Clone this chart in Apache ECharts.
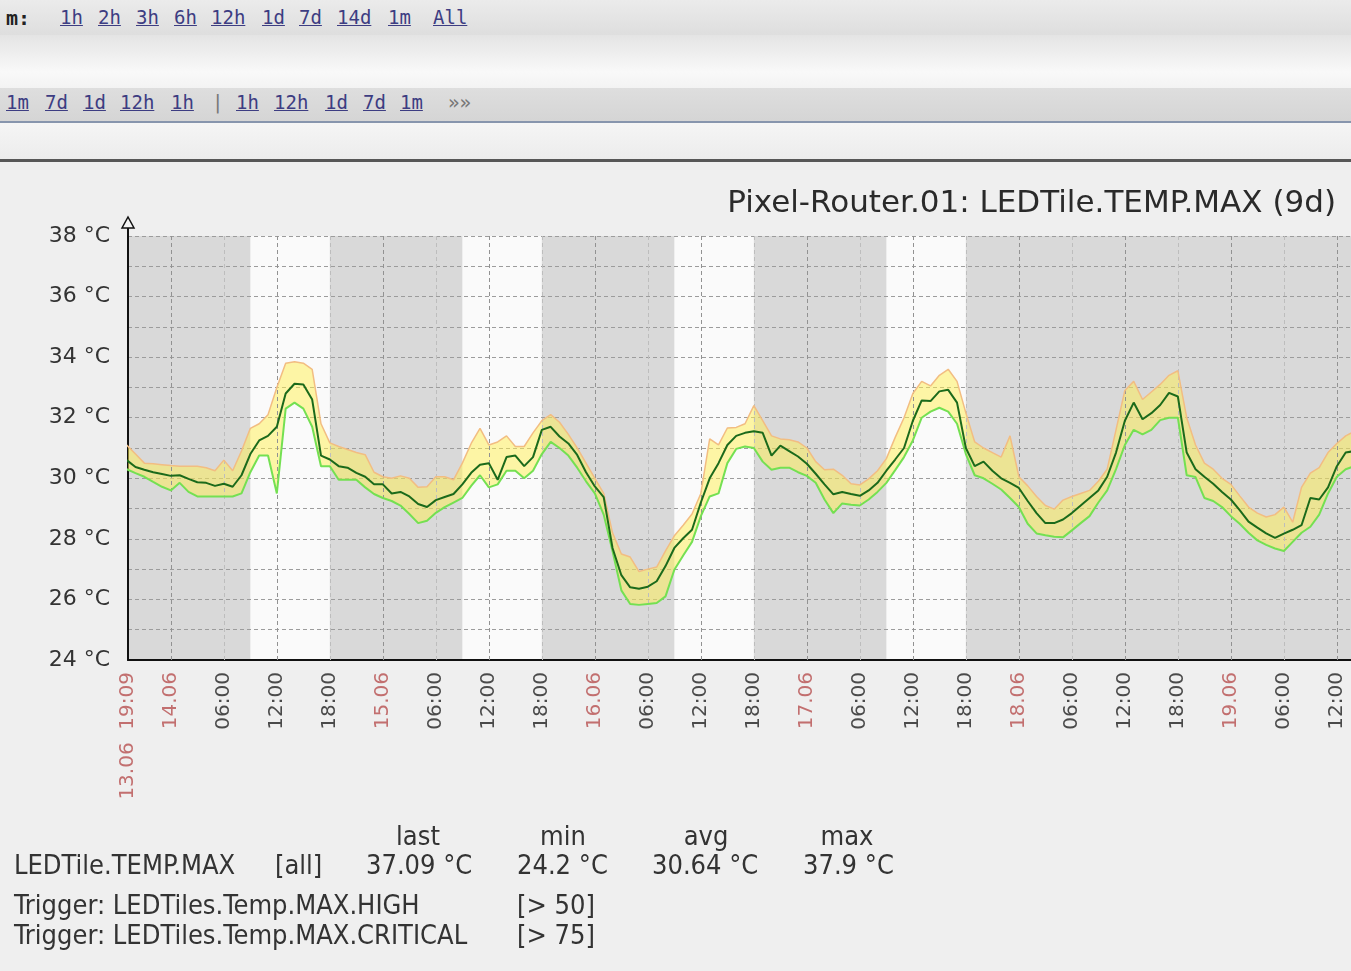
<!DOCTYPE html>
<html>
<head>
<meta charset="utf-8">
<script src="https://cdn.jsdelivr.net/npm/echarts@6/dist/echarts.min.js"></script>
<style>
    body { margin: 0; width: 1351px; height: 971px; background: #efefef; overflow: hidden; position: relative; }
    .bar { position: absolute; left: 0; width: 1351px; }
    #filterBar { top: 0; height: 35px; background: linear-gradient(#ebebeb, #dedede); }
    #gapBar { top: 35px; height: 53px; background: linear-gradient(#e4e4e4, #f9f9f9 70%, #f3f3f3); }
    #navBar { top: 88px; height: 33px; background: linear-gradient(#dedede, #d5d5d5); border-bottom: 2px solid #8795ad; }
    #subBar { top: 123px; height: 36px; background: linear-gradient(#f5f5f5, #ececec); border-bottom: 3px solid #575757; }
    .lnk { position: absolute; font-family: 'DejaVu Sans Mono', monospace; font-size: 19px; color: #3d3d82; text-decoration: underline; white-space: pre; }
    .plain { position: absolute; font-family: 'DejaVu Sans Mono', monospace; font-size: 19px; color: #777; white-space: pre; }
    #zoomLabel { position: absolute; left: 6px; top: 6px; font-family: 'DejaVu Sans Mono', monospace; font-size: 20px; font-weight: bold; color: #222; }
    #chart { position: absolute; left: 0; top: 0; width: 1351px; height: 971px; }
</style>
</head>
<body>
<div class="bar" id="filterBar"><span id="zoomLabel">m:</span></div>
<div class="bar" id="gapBar"></div>
<div class="bar" id="navBar"></div>
<div class="bar" id="subBar"></div>
<div id="chart"></div>
<script>
// zoom / navigation links of the page header
const zoomLinks = [['1h', 60], ['2h', 98], ['3h', 136], ['6h', 174], ['12h', 211], ['1d', 262], ['7d', 299], ['14d', 337], ['1m', 388], ['All', 433]]
const navLinks = [['1m', 6], ['7d', 45], ['1d', 83], ['12h', 120], ['1h', 171], ['|', 212], ['1h', 236], ['12h', 274], ['1d', 325], ['7d', 363], ['1m', 400], ['»»', 448]]

// hourly samples, first sample 13.06 19:00
const sampleStart = '2011-06-13 19:00'
const sampleStepHours = 1
const avgTemp = [
    30.6, 30.37, 30.28, 30.2, 30.14, 30.08, 30.1, 29.98, 29.87, 29.85,
    29.75, 29.82, 29.72, 30.1, 30.8, 31.25, 31.4, 31.7, 32.8, 33.12,
    33.1, 32.6, 30.75, 30.62, 30.4, 30.35, 30.18, 30.05, 29.8, 29.8,
    29.5, 29.55, 29.4, 29.15, 29.05, 29.28, 29.38, 29.48, 29.8, 30.18,
    30.45, 30.5, 29.95, 30.7, 30.75, 30.4, 30.7, 31.6, 31.7, 31.38,
    31.15, 30.77, 30.2, 29.73, 29.38, 27.7, 26.8, 26.4, 26.35, 26.42,
    26.6, 27.1, 27.7, 28.02, 28.3, 29.2, 30.0, 30.5, 31.1, 31.4,
    31.5, 31.55, 31.5, 30.75, 31.08, 30.9, 30.72, 30.48, 30.15, 29.8,
    29.47, 29.55, 29.48, 29.42, 29.6, 29.85, 30.25, 30.62, 31.0, 31.9,
    32.57, 32.55, 32.87, 32.92, 32.5, 31.0, 30.4, 30.55, 30.25, 30.0,
    29.85, 29.68, 29.25, 28.85, 28.52, 28.52, 28.64, 28.85, 29.1, 29.35,
    29.6, 30.05, 30.85, 31.9, 32.5, 31.95, 32.15, 32.42, 32.82, 32.7,
    30.85, 30.3, 30.05, 29.82, 29.55, 29.3, 28.95, 28.57, 28.37, 28.18,
    28.03, 28.17, 28.3, 28.45, 29.35, 29.3, 29.7, 30.4, 30.85, 30.9
]
const maxTemp = [
    31.1, 30.8, 30.5, 30.48, 30.45, 30.42, 30.4, 30.4, 30.4, 30.35,
    30.25, 30.6, 30.25, 30.9, 31.65, 31.8, 32.1, 33.0, 33.8, 33.85,
    33.8, 33.6, 31.8, 31.17, 31.05, 30.95, 30.85, 30.78, 30.2, 30.05,
    30.0, 30.08, 30.0, 29.7, 29.72, 30.05, 30.05, 29.95, 30.5, 31.15,
    31.65, 31.1, 31.2, 31.4, 31.05, 31.05, 31.5, 31.9, 32.1, 31.85,
    31.45, 31.0, 30.5, 30.0, 29.5, 28.2, 27.5, 27.4, 26.92, 27.0,
    27.07, 27.6, 28.1, 28.45, 28.82, 29.5, 31.3, 31.1, 31.66, 31.68,
    31.8, 32.4, 31.9, 31.4, 31.3, 31.27, 31.2, 31.0, 30.55, 30.28,
    30.3, 30.1, 29.82, 29.78, 29.98, 30.25, 30.65, 31.35, 32.0, 32.8,
    33.2, 33.05, 33.4, 33.6, 33.2, 32.16, 31.2, 31.0, 30.85, 30.7,
    31.4, 30.05, 29.75, 29.4, 29.1, 28.98, 29.28, 29.4, 29.5, 29.6,
    29.9, 30.3, 31.6, 32.9, 33.2, 32.6, 32.85, 33.1, 33.4, 33.55,
    32.0, 31.1, 30.5, 30.3, 30.0, 29.8, 29.42, 29.05, 28.85, 28.72,
    28.8, 29.05, 28.55, 29.7, 30.17, 30.35, 30.85, 31.15, 31.4, 31.55
]
const minTemp = [
    30.3, 30.17, 30.05, 29.88, 29.72, 29.6, 29.85, 29.55, 29.4, 29.4,
    29.4, 29.4, 29.4, 29.5, 30.2, 30.75, 30.75, 29.5, 32.3, 32.5,
    32.3, 31.7, 30.4, 30.4, 29.95, 29.95, 29.95, 29.7, 29.48, 29.35,
    29.25, 29.1, 28.82, 28.52, 28.6, 28.86, 29.05, 29.2, 29.35, 29.75,
    30.1, 29.7, 29.8, 30.25, 30.25, 30.0, 30.25, 30.8, 31.2, 31.0,
    30.75, 30.35, 29.9, 29.5, 28.8, 27.6, 26.3, 25.85, 25.82, 25.85,
    25.88, 26.1, 26.98, 27.45, 27.9, 28.75, 29.4, 29.5, 30.5, 30.97,
    31.05, 31.0, 30.55, 30.28, 30.35, 30.35, 30.2, 30.08, 29.85, 29.3,
    28.85, 29.17, 29.13, 29.1, 29.3, 29.55, 29.85, 30.27, 30.7, 31.25,
    32.0, 32.2, 32.33, 32.2, 31.8, 30.8, 30.1, 30.0, 29.82, 29.63,
    29.35, 29.05, 28.5, 28.18, 28.12, 28.07, 28.05, 28.28, 28.52, 28.75,
    29.2, 29.6, 30.3, 31.1, 31.6, 31.45, 31.6, 31.92, 32.0, 32.0,
    30.1, 30.04, 29.35, 29.25, 29.05, 28.75, 28.5, 28.2, 27.95, 27.8,
    27.68, 27.6, 27.9, 28.2, 28.4, 28.8, 29.5, 30.05, 30.3, 30.4
]

const axisStart = '2011-06-13 19:09'
const axisEnd = '2011-06-19 13:36'
const tickTimes = [
    '2011-06-13 19:09',
    '2011-06-14 00:00', '2011-06-14 06:00', '2011-06-14 12:00', '2011-06-14 18:00',
    '2011-06-15 00:00', '2011-06-15 06:00', '2011-06-15 12:00', '2011-06-15 18:00',
    '2011-06-16 00:00', '2011-06-16 06:00', '2011-06-16 12:00', '2011-06-16 18:00',
    '2011-06-17 00:00', '2011-06-17 06:00', '2011-06-17 12:00', '2011-06-17 18:00',
    '2011-06-18 00:00', '2011-06-18 06:00', '2011-06-18 12:00', '2011-06-18 18:00',
    '2011-06-19 00:00', '2011-06-19 06:00', '2011-06-19 12:00'
]
// working time, drawn white
const workHours = [
    ['2011-06-14 09:00', '2011-06-14 18:00'],
    ['2011-06-15 09:00', '2011-06-15 18:00'],
    ['2011-06-16 09:00', '2011-06-16 18:00'],
    ['2011-06-17 09:00', '2011-06-17 18:00']
]

const itemName = 'LEDTile.TEMP.MAX'
const statNames = ['last', 'min', 'avg', 'max']
const statValues = ['37.09 °C', '24.2 °C', '30.64 °C', '37.9 °C']
const triggers = [['LEDTiles.Temp.MAX.HIGH', '[> 50]'], ['LEDTiles.Temp.MAX.CRITICAL', '[> 75]']]

// header links
zoomLinks.forEach(l => {
    document.getElementById('filterBar').insertAdjacentHTML('beforeend',
        `<span class="lnk" style="left:${l[1]}px;top:6px">${l[0]}</span>`)
})
navLinks.forEach(l => {
    let cls = (l[0] == '|' || l[0] == '»»') ? 'plain' : 'lnk'
    document.getElementById('navBar').insertAdjacentHTML('beforeend',
        `<span class="${cls}" style="left:${l[1]}px;top:3px">${l[0]}</span>`)
})

const toTime = s => new Date(s.replace(' ', 'T') + ':00').getTime()
const pad = n => (n < 10 ? '0' : '') + n
const t0 = toTime(sampleStart)
const times = avgTemp.map((v, i) => t0 + i * sampleStepHours * 3600000)
const pairs = arr => arr.map((v, i) => [times[i], v])

const startTime = toTime(axisStart)
const endTime = toTime(axisEnd)
const tickValues = tickTimes.map(toTime)
const majorLines = tickValues.filter(t => t != startTime && new Date(t).getHours() % 12 == 0)
const minorLines = tickValues.filter(t => t != startTime && new Date(t).getHours() % 12 != 0)

var chart = echarts.init(document.getElementById('chart'))

var graphics = [
    {type: 'line', shape: {x1: 128, y1: 237, x2: 128, y2: 226}, style: {stroke: '#111', lineWidth: 2}},
    {type: 'polygon', shape: {points: [[122, 228], [134, 228], [128, 217]]}, style: {fill: '#f4f4f4', stroke: '#111', lineWidth: 1.5}}
]
const legendFont = {fontFamily: 'DejaVu Sans Condensed', fontSize: 27, fill: '#333'}
function addText(text, x, y, align) {
    graphics.push({type: 'text', style: Object.assign({
        text: text, x: x, y: y,
        align: align, textAlign: align, verticalAlign: 'middle', textVerticalAlign: 'middle'
    }, legendFont)})
}
const statCenters = [418, 563, 706, 847]
statNames.forEach((n, i) => addText(n, statCenters[i], 838, 'center'))
addText(itemName, 14, 867, 'left')
addText('[all]', 275, 867, 'left')
const statLeft = [366, 517, 652, 803]
statValues.forEach((v, i) => addText(v, statLeft[i], 867, 'left'))
triggers.forEach((t, i) => {
    addText('Trigger: ' + t[0], 14, 907 + i * 30, 'left')
    addText(t[1], 517, 907 + i * 30, 'left')
})

chart.setOption({
    animation: false,
    title: {
        text: 'Pixel-Router.01: LEDTile.TEMP.MAX (9d)',
        right: 10,
        top: 183,
        textStyle: {fontFamily: 'DejaVu Sans', fontSize: 31, fontWeight: 'normal', color: '#2a2a2a'}
    },
    grid: {left: 128, right: 0, top: 236, bottom: 311},
    xAxis: {
        type: 'value',
        min: startTime,
        max: endTime,
        z: 3,
        axisLine: {show: true, lineStyle: {color: '#111', width: 2}},
        axisTick: {show: false},
        splitLine: {show: false},
        axisLabel: {
            customValues: tickValues,
            rotate: 90,
            margin: 12,
            hideOverlap: false,
            fontFamily: 'DejaVu Sans',
            formatter: function (value) {
                let d = new Date(value)
                let dd = pad(d.getDate()) + '.' + pad(d.getMonth() + 1)
                let hm = pad(d.getHours()) + ':' + pad(d.getMinutes())
                if (value == startTime) return '{first|' + dd + '  ' + hm + '}'
                if (d.getHours() == 0 && d.getMinutes() == 0) return '{date|' + dd + '}'
                return '{time|' + hm + '}'
            },
            rich: {
                first: {color: '#c26f6f', fontSize: 20, fontFamily: 'DejaVu Sans'},
                date: {color: '#c26f6f', fontSize: 20, fontFamily: 'DejaVu Sans'},
                time: {color: '#4a4a4a', fontSize: 20, fontFamily: 'DejaVu Sans'}
            }
        }
    },
    yAxis: {
        type: 'value',
        min: 24,
        max: 38,
        interval: 1,
        z: 3,
        axisLine: {show: true, lineStyle: {color: '#111', width: 2}},
        axisTick: {show: false},
        axisLabel: {
            formatter: v => (v % 2 == 0 ? v + ' °C' : ''),
            color: '#333',
            fontSize: 22,
            fontFamily: 'DejaVu Sans',
            margin: 18
        },
        splitLine: {show: true, lineStyle: {color: '#9c9c9c', width: 1, type: [4, 3]}}
    },
    graphic: graphics,
    series: [
        {
            name: 'nonwork', type: 'line', data: [], z: 0, silent: true,
            markArea: {silent: true, itemStyle: {color: '#d9d9d9'},
                data: [[{xAxis: startTime}, {xAxis: endTime}]]}
        },
        {
            name: 'work', type: 'line', data: [], z: 1, silent: true,
            markArea: {silent: true, itemStyle: {color: '#fafafa'},
                data: workHours.map(w => [{xAxis: toTime(w[0])}, {xAxis: toTime(w[1])}])}
        },
        {
            name: 'vgrid', type: 'line', data: [], z: 3, silent: true,
            markLine: {
                silent: true, symbol: 'none', label: {show: false},
                data: majorLines.map(t => ({xAxis: t, lineStyle: {color: '#929292', width: 1, type: [4, 3]}}))
                    .concat(minorLines.map(t => ({xAxis: t, lineStyle: {color: '#bdbdbd', width: 1, type: [4, 3]}})))
            }
        },
        {
            // yellow band between min and max
            name: 'band', type: 'custom', z: 4, silent: true, clip: true,
            data: [[startTime, 30]],
            renderItem: function (params, api) {
                let pts = maxTemp.map((v, i) => api.coord([times[i], v]))
                for (let i = minTemp.length - 1; i >= 0; i--) {
                    pts.push(api.coord([times[i], minTemp[i]]))
                }
                return {type: 'polygon', shape: {points: pts}, style: {fill: 'rgba(255, 240, 80, 0.5)'}}
            }
        },
        {
            name: 'max', type: 'line', data: pairs(maxTemp), z: 5, symbol: 'none',
            lineStyle: {color: '#f2bd82', width: 1.5}
        },
        {
            name: 'min', type: 'line', data: pairs(minTemp), z: 6, symbol: 'none',
            lineStyle: {color: '#74e052', width: 2}
        },
        {
            name: 'avg', type: 'line', data: pairs(avgTemp), z: 7, symbol: 'none',
            lineStyle: {color: '#1b6a1b', width: 2}
        }
    ]
})
</script>
</body>
</html>
